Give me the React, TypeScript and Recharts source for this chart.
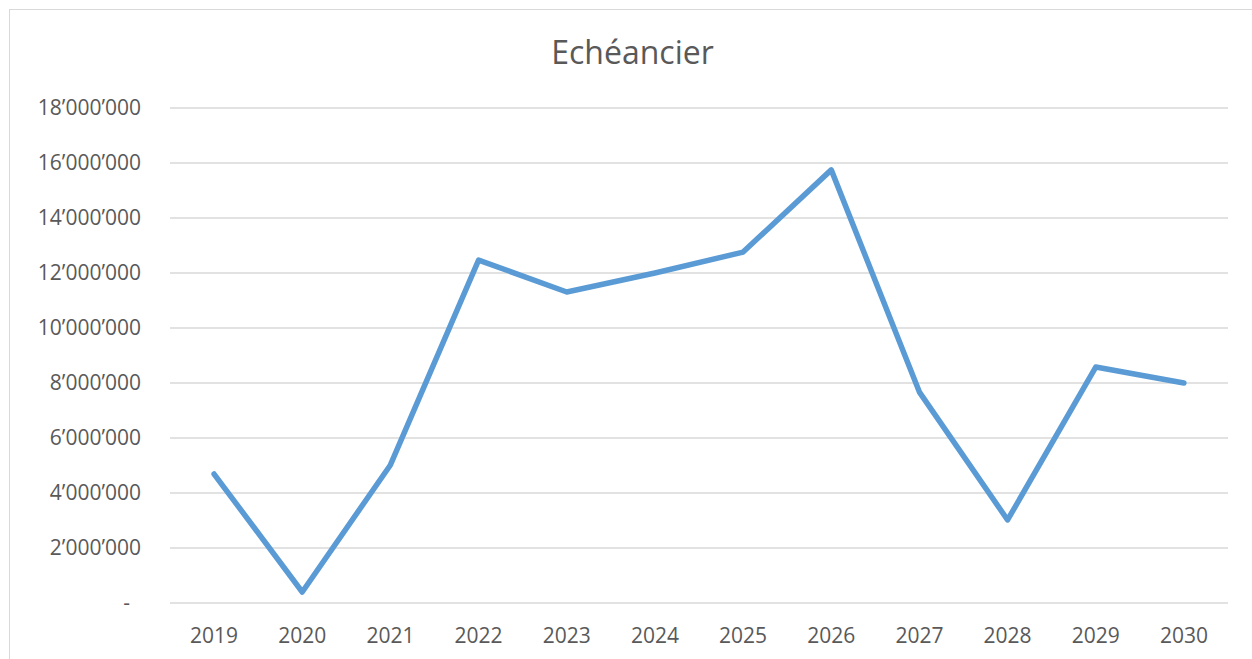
import { CartesianGrid, Line, LineChart, XAxis, YAxis } from "recharts";

const YEARS = ["2019", "2020", "2021", "2022", "2023", "2024", "2025", "2026", "2027", "2028", "2029", "2030"];
const AMOUNTS = [4690000, 400000, 5020000, 12470000, 11310000, 12000000, 12760000, 15750000, 7670000, 3020000, 8580000, 8000000];
const Y_TICKS = [0, 2000000, 4000000, 6000000, 8000000, 10000000, 12000000, 14000000, 16000000, 18000000];

const FONT = "'Open Sans', sans-serif";
const TEXT = "#595959";
const GRID = "#D9D9D9";

// Swiss style thousands separator, Excel accounting "-" for zero
const fmt = (v: number) => {
  if (v === 0) return "-\u00A0\u00A0";
  return String(v).replace(/\B(?=(\d{3})+(?!\d))/g, "\u2019");
};

export default function App() {
  const data = YEARS.map((y, i) => ({ year: y, value: AMOUNTS[i] }));

  return (
    <div style={{ position: "absolute", left: 0, top: 0, width: 1252, height: 659, background: "#fff", overflow: "hidden" }}>
      {/* frame, cropped on right and bottom */}
      <div style={{ position: "absolute", left: 9, top: 9, width: 1260, height: 700, borderLeft: `1px solid ${GRID}`, borderTop: `1px solid ${GRID}` }} />
      <div style={{
        position: "absolute", left: 9, top: 36, width: 1247, textAlign: "center",
        fontFamily: FONT, fontSize: 32, lineHeight: 1, color: TEXT,
      }}>
        Echéancier
      </div>
      <div style={{ position: "absolute", left: 0, top: 0 }}>
        <LineChart width={1252} height={659} data={data} margin={{ top: 108, right: 24, bottom: 0, left: 0 }}>
          <CartesianGrid vertical={false} stroke={GRID} strokeWidth={1.3} />
          <XAxis dataKey="year" scale="band" axisLine={false} tickLine={false} height={56}
                 tickSize={8} tickMargin={17}
                 tick={{ fill: TEXT, fontSize: 21, fontFamily: FONT }} />
          <YAxis type="number" domain={[0, 18000000]} ticks={Y_TICKS} interval={0} width={170}
                 axisLine={false} tickLine={false} tickSize={6} tickMargin={23}
                 tickFormatter={fmt}
                 tick={{ fill: TEXT, fontSize: 21, fontFamily: FONT }} />
          <Line type="linear" dataKey="value" stroke="#5B9BD5" strokeWidth={5.5} dot={false}
                strokeLinejoin="round" strokeLinecap="round" isAnimationActive={false} />
        </LineChart>
      </div>
    </div>
  );
}
